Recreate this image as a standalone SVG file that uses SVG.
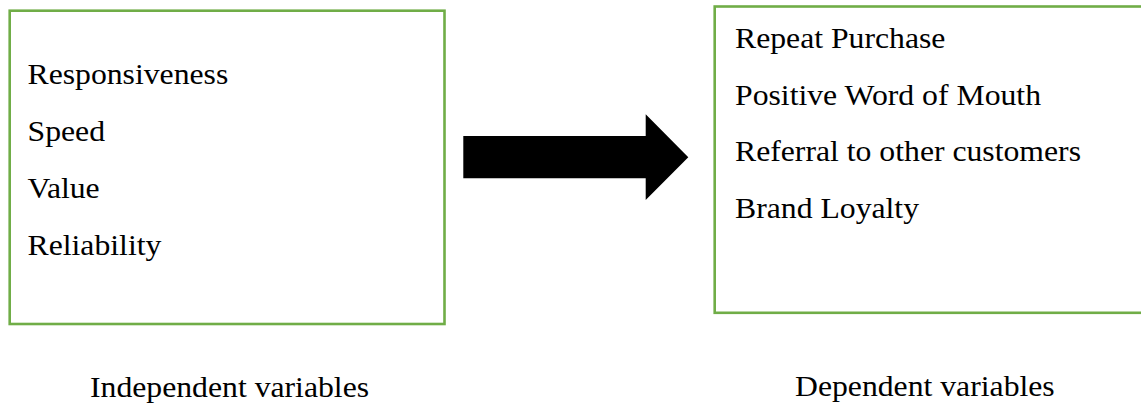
<svg xmlns="http://www.w3.org/2000/svg" width="1141" height="405" viewBox="0 0 1141 405">
<style>
.box{fill:#ffffff;stroke:#70AD47;stroke-width:2.6}
.t{font-family:"Liberation Serif","Times New Roman",serif;font-size:29px;fill:#000000}
</style>
<rect x="0" y="0" width="1141" height="405" fill="#ffffff"/>
<g id="independent">
<rect class="box" x="9.7" y="10.7" width="434.8" height="313.3"/>
<text class="t" transform="translate(27.5,83.5) scale(1.094,1)">Responsiveness</text>
<text class="t" transform="translate(27.5,140.5) scale(1.094,1)">Speed</text>
<text class="t" transform="translate(27.5,197.5) scale(1.094,1)">Value</text>
<text class="t" transform="translate(27.5,254.5) scale(1.094,1)">Reliability</text>
</g>
<g id="dependent">
<rect class="box" x="714.7" y="6.5" width="440" height="306.3"/>
<text class="t" transform="translate(735,48.3) scale(1.094,1)">Repeat Purchase</text>
<text class="t" transform="translate(735,104.5) scale(1.094,1)">Positive Word of Mouth</text>
<text class="t" transform="translate(735,161) scale(1.094,1)">Referral to other customers</text>
<text class="t" transform="translate(735,217.5) scale(1.094,1)">Brand Loyalty</text>
</g>
<g id="connectors">
<polygon points="463.3,136 645.7,136 645.7,114.3 688.3,157.3 645.7,200 645.7,178.3 463.3,178.3" fill="#000000"/>
</g>
<g id="labels">
<text class="t" transform="translate(90,396.5) scale(1.094,1)">Independent variables</text>
<text class="t" transform="translate(795,396) scale(1.094,1)">Dependent variables</text>
</g>
</svg>
